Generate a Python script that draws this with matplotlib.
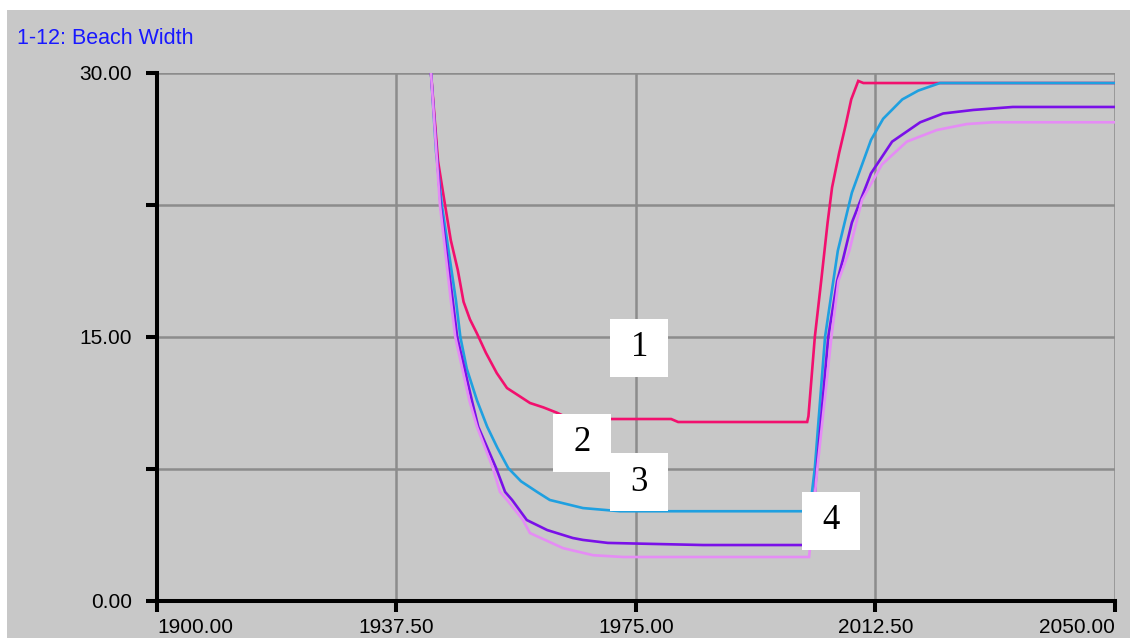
import matplotlib.pyplot as plt
from matplotlib.patches import Rectangle

# series (year, beach width)
yr1 = [1942.9, 1944.0, 1945.1, 1946.0, 1947.1, 1948.0, 1949.0, 1950.1, 1951.5, 1953.2,
       1954.8, 1956.5, 1958.4, 1960.5, 1962.6, 1964.7, 1980.5, 1981.6, 2001.8, 2002.0,
       2003.0, 2004.0, 2005.0, 2005.7, 2006.8, 2007.8, 2008.7, 2009.8, 2010.6, 2050.0]
bw1 = [30.0, 25.0, 22.5, 20.5, 18.8, 17.0, 16.0, 15.2, 14.1, 12.95,
       12.1, 11.7, 11.25, 11.0, 10.7, 10.34, 10.34, 10.17, 10.17, 10.5,
       15.0, 18.2, 21.5, 23.5, 25.45, 27.0, 28.5, 29.55, 29.43, 29.43]

yr2 = [1942.9, 1943.7, 1944.6, 1946.8, 1947.5, 1948.5, 1950.1, 1951.7, 1953.3, 1955.0,
       1957.0, 1959.5, 1961.5, 1966.7, 1972.5, 2002.2, 2003.0, 2004.6, 2005.9, 2006.6,
       2008.8, 2011.8, 2013.7, 2016.7, 2019.2, 2022.6, 2050.0]
bw2 = [30.0, 25.5, 22.5, 17.1, 15.0, 13.2, 11.4, 9.9, 8.7, 7.55,
       6.8, 6.2, 5.74, 5.28, 5.1, 5.1, 7.55, 15.0, 18.2, 19.9,
       23.2, 26.2, 27.4, 28.5, 29.0, 29.43, 29.43]

yr3 = [1942.9, 1944.4, 1946.3, 1947.0, 1949.3, 1950.3, 1953.1, 1954.5, 1955.6, 1957.9,
       1961.1, 1965.1, 1966.7, 1970.6, 1985.5, 2002.4, 2003.3, 2005.1, 2006.5, 2007.4,
       2008.8, 2011.8, 2015.1, 2019.5, 2023.1, 2027.8, 2034.0, 2050.0]
bw3 = [30.0, 22.5, 17.1, 15.0, 11.4, 9.9, 7.55, 6.2, 5.74, 4.6,
       4.03, 3.58, 3.47, 3.3, 3.18, 3.18, 7.55, 15.0, 18.2, 19.4,
       21.5, 24.3, 26.1, 27.2, 27.7, 27.9, 28.07, 28.07]

yr4 = [1942.9, 1944.3, 1946.0, 1946.7, 1948.9, 1950.1, 1952.6, 1953.7, 1954.8, 1957.3,
       1958.4, 1963.6, 1968.3, 1973.0, 2002.1, 2003.4, 2005.6, 2006.7, 2008.4, 2010.4,
       2013.5, 2017.4, 2022.1, 2026.8, 2030.9, 2050.0]
bw4 = [30.0, 22.5, 17.1, 15.0, 11.4, 9.9, 7.55, 6.2, 5.74, 4.6,
       3.86, 3.0, 2.6, 2.5, 2.5, 7.55, 15.0, 18.2, 19.9, 22.8,
       24.8, 26.1, 26.76, 27.1, 27.2, 27.2]

series = [(yr1, bw1, '#F2106E'), (yr2, bw2, '#1FA0E0'),
          (yr3, bw3, '#7A10E8'), (yr4, bw4, '#E58CF5')]

# label boxes: (number, centre year, centre value)
tags = [('1', 1975.5, 14.4), ('2', 1966.5, 9.0), ('3', 1975.5, 6.76), ('4', 2005.5, 4.55)]

xticks = [1900, 1937.5, 1975, 2012.5, 2050]
yticks = [0, 7.5, 15, 22.5, 30]
ylabels = ['0.00', '', '15.00', '', '30.00']

fig = plt.figure(figsize=(11.3, 6.38), dpi=100)
fig.patches.append(Rectangle((7 / 1130, 0), 1, 1 - 10 / 638, transform=fig.transFigure,
                             facecolor='#c8c8c8', edgecolor='none', zorder=-10))
ax = fig.add_axes([157 / 1130, 1 - 601 / 638, (1115 - 157) / 1130, (601 - 73) / 638])
ax.set_facecolor('none')

for x, y, c in series:
    ax.plot(x, y, color=c, lw=1.9, zorder=3, solid_joinstyle='miter')

bw, bh = 9.1, 3.3
for t, cx, cy in tags:
    ax.add_patch(Rectangle((cx - bw / 2, cy - bh / 2), bw, bh, facecolor='white',
                           edgecolor='none', zorder=5))
    ax.text(cx, cy, t, ha='center', va='center', fontsize=25,
            family='Liberation Serif', zorder=6)

ax.set_xlim(1900, 2050)
ax.set_ylim(0, 30)
ax.set_xticks(xticks)
ax.set_xticklabels(['%.2f' % v for v in xticks])
ax.set_yticks(yticks)
ax.set_yticklabels(ylabels)

for v in xticks[1:]:
    ax.axvline(v, color='#8c8c8c', lw=1.8, zorder=1)
for v in yticks[1:]:
    ax.axhline(v, color='#8c8c8c', lw=1.8, zorder=1)

for s in ['top', 'right']:
    ax.spines[s].set_visible(False)
for s in ['left', 'bottom']:
    ax.spines[s].set_linewidth(2.9)
    ax.spines[s].set_zorder(4)
ax.tick_params(axis='both', width=2.9, length=8, color='black', labelsize=15)
ax.tick_params(axis='y', pad=10)
ax.tick_params(axis='x', pad=4)
for lab in ax.get_xticklabels() + ax.get_yticklabels():
    lab.set_family('Liberation Sans')
xl = ax.get_xticklabels()
xl[0].set_horizontalalignment('left')
xl[-1].set_horizontalalignment('right')

fig.text(17 / 1130, 1 - 38 / 638, '1-12: Beach Width', color='#1818ff', fontsize=15.5,
         family='Liberation Sans', va='center', ha='left')

fig.savefig('out.png', dpi=100)
